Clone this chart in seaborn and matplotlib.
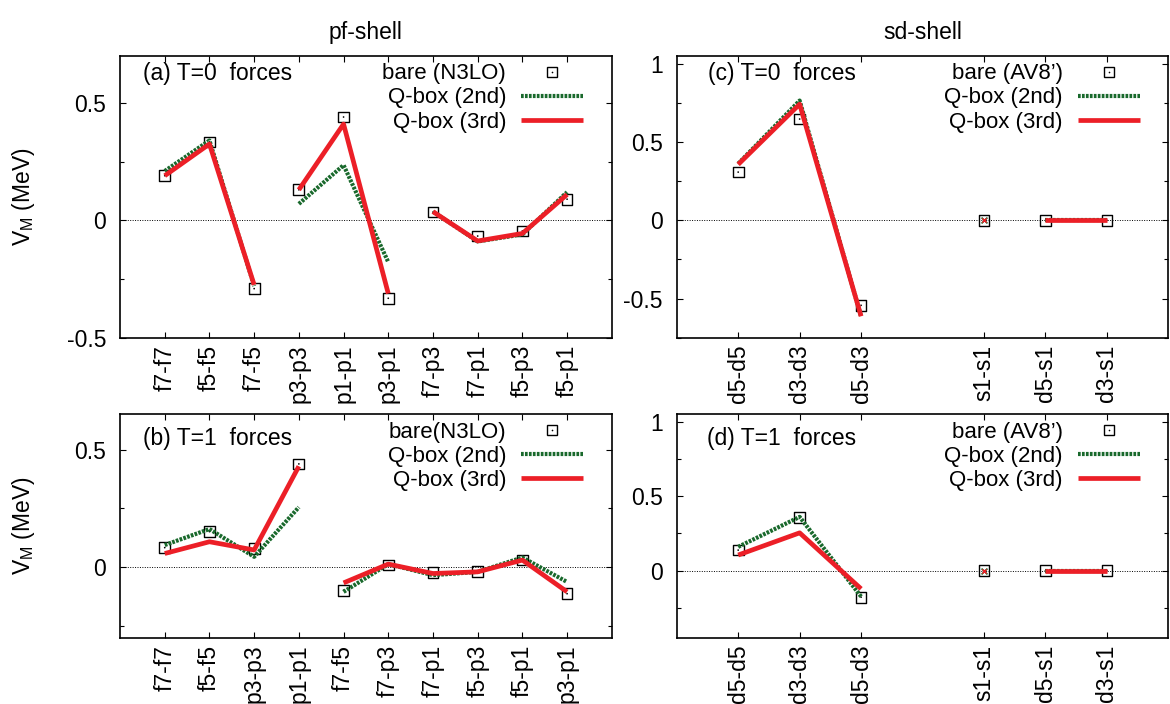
import numpy as np
import pandas as pd
import matplotlib
matplotlib.use("Agg")
import matplotlib.pyplot as plt
import seaborn as sns
from matplotlib.lines import Line2D
from matplotlib.ticker import MultipleLocator, FormatStrFormatter

# ---------------- data ----------------
pf_T0_labels = ["f7-f7", "f5-f5", "f7-f5", "p3-p3", "p1-p1", "p3-p1", "f7-p3", "f7-p1", "f5-p3", "f5-p1"]
pf_T0_groups = [3, 3, 4]
pf_T0_bare = [0.19, 0.334, -0.291, 0.13, 0.44, -0.332, 0.035, -0.067, -0.045, 0.09]
pf_T0_q2 = [0.21, 0.34, -0.28, 0.07, 0.235, -0.178, 0.037, -0.09, -0.06, 0.12]
pf_T0_q3 = [0.19, 0.325, -0.275, 0.13, 0.41, -0.312, 0.037, -0.088, -0.056, 0.11]

pf_T1_labels = ["f7-f7", "f5-f5", "p3-p3", "p1-p1", "f7-f5", "f7-p3", "f7-p1", "f5-p3", "f5-p1", "p3-p1"]
pf_T1_groups = [4, 6]
pf_T1_bare = [0.083, 0.151, 0.08, 0.439, -0.098, 0.009, -0.024, -0.017, 0.03, -0.113]
pf_T1_q2 = [0.094, 0.162, 0.044, 0.255, -0.105, 0.013, -0.034, -0.02, 0.041, -0.063]
pf_T1_q3 = [0.058, 0.108, 0.073, 0.429, -0.067, 0.013, -0.027, -0.02, 0.03, -0.105]

sd_labels = ["d5-d5", "d3-d3", "d5-d3", "s1-s1", "d5-s1", "d3-s1"]
sd_groups = [3, 1, 2]
sd_T0_bare = [0.308, 0.647, -0.543, 0.0, 0.0, 0.0]
sd_T0_q2 = [0.362, 0.765, -0.615, 0.0, 0.0, 0.0]
sd_T0_q3 = [0.357, 0.742, -0.613, 0.0, 0.0, 0.0]
sd_T1_bare = [0.138, 0.357, -0.178, 0.0, 0.0, 0.0]
sd_T1_q2 = [0.16, 0.361, -0.174, 0.0, 0.0, 0.0]
sd_T1_q3 = [0.105, 0.254, -0.122, 0.0, 0.0, 0.0]

# ---------------- style ----------------
sns.set_theme(style="white")
plt.rcParams["font.family"] = ["Liberation Sans", "DejaVu Sans"]
plt.rcParams["mathtext.fontset"] = "custom"
plt.rcParams["mathtext.rm"] = "Liberation Sans"
plt.rcParams["axes.unicode_minus"] = False
plt.rcParams["text.color"] = "black"
plt.rcParams["axes.labelcolor"] = "black"

RED = "#ec1f27"
GREEN = "#19692c"
FS = 16.5
LFS = 16
DOT = (0, (0.65, 0.3))

fig = plt.figure(figsize=(11.7, 7.04), dpi=100)
ax_a = fig.add_axes([0.1026, 0.5203, 0.4203, 0.4002])
ax_b = fig.add_axes([0.1026, 0.0942, 0.4203, 0.3173])
ax_c = fig.add_axes([0.5784, 0.5203, 0.4202, 0.4002])
ax_d = fig.add_axes([0.5784, 0.0942, 0.4202, 0.3173])


def draw_panel(ax, labels, groups, gap_after, bare, q2, q3, xlim, ylim,
               panel_text, text_y, text_x, bare_name, leg_y):
    pos = []
    p = 1
    for i in range(len(labels)):
        pos.append(p)
        p += 1
        if gap_after is not None and i == gap_after:
            p += 1
    seg = np.repeat(np.arange(len(groups)), groups)
    df = pd.DataFrame({"x": pos, "seg": seg, "bare": bare, "q2": q2, "q3": q3})
    sizes = df.groupby("seg")["x"].transform("size")
    multi = df[sizes > 1]
    single = df[sizes == 1]

    ax.axhline(0, color="black", lw=0.7, ls=(0, (1, 1.5)), zorder=1)
    sns.scatterplot(data=df, x="x", y="bare", marker="s", s=60, facecolor="none",
                    edgecolor="black", linewidth=1.0, ax=ax, zorder=3, legend=False)
    sns.scatterplot(data=df, x="x", y="bare", marker="o", s=1.5, color="black",
                    edgecolor="none", ax=ax, zorder=3, legend=False)
    sns.lineplot(data=multi, x="x", y="q2", units="seg", estimator=None, sort=False,
                 color=GREEN, lw=3.0, linestyle=DOT, ax=ax, zorder=4, legend=False)
    sns.lineplot(data=multi, x="x", y="q3", units="seg", estimator=None, sort=False,
                 color=RED, lw=3.4, solid_capstyle="butt", ax=ax, zorder=5, legend=False)
    if len(single):
        sns.scatterplot(data=single, x="x", y="q2", marker="x", s=18, color=GREEN,
                        linewidth=1.2, ax=ax, zorder=4, legend=False)
        sns.scatterplot(data=single, x="x", y="q3", marker="x", s=10, color=RED,
                        linewidth=1.0, ax=ax, zorder=5, legend=False)

    ax.set_xlim(*xlim)
    ax.set_ylim(*ylim)
    ax.set_xticks(pos)
    ax.set_xticklabels(labels, rotation=90, va="top", ha="center", fontsize=FS)
    ax.yaxis.set_major_locator(MultipleLocator(0.5))
    ax.yaxis.set_minor_locator(MultipleLocator(0.25))
    ax.yaxis.set_major_formatter(FormatStrFormatter("%g"))
    ax.tick_params(axis="both", which="both", direction="in", top=True, right=True,
                   bottom=True, left=True, colors="black", width=0.8)
    ax.tick_params(axis="both", which="major", length=4.5, labelsize=FS)
    ax.tick_params(axis="x", which="major", pad=5)
    ax.tick_params(axis="y", which="major", pad=10)
    ax.tick_params(axis="y", which="minor", length=3)
    ax.set_xlabel("")
    ax.set_ylabel("")
    for sp in ax.spines.values():
        sp.set_color("black")
        sp.set_linewidth(1.2)

    ax.text(text_x, text_y, panel_text, transform=ax.transAxes, fontsize=FS,
            ha="left", va="center", color="black")

    h_bare = (Line2D([], [], marker="s", ms=7.7, mfc="none", mec="black", mew=1.0, ls="none"),
              Line2D([], [], marker="o", ms=1.2, color="black", mec="none", ls="none"))
    h2 = Line2D([], [], color=GREEN, lw=3.0, ls=DOT)
    h3 = Line2D([], [], color=RED, lw=3.4, solid_capstyle="butt")
    ax.legend([h_bare, h2, h3], [bare_name, "Q-box (2nd)", "Q-box (3rd)"],
              markerfirst=False, frameon=False, loc="upper right",
              bbox_to_anchor=(0.9423, leg_y), borderaxespad=0, borderpad=0,
              handlelength=2.8, handletextpad=0.68, labelspacing=0.14, fontsize=LFS)


draw_panel(ax_a, pf_T0_labels, pf_T0_groups, None, pf_T0_bare, pf_T0_q2, pf_T0_q3,
           (0, 11), (-0.5, 0.7), "(a) T=0  forces", 0.9386, 0.046, "bare (N3LO)", 0.974)
draw_panel(ax_b, pf_T1_labels, pf_T1_groups, None, pf_T1_bare, pf_T1_q2, pf_T1_q3,
           (0, 11), (-0.3, 0.65), "(b) T=1  forces", 0.8925, 0.046, "bare(N3LO)", 0.967)
draw_panel(ax_c, sd_labels, sd_groups, 2, sd_T0_bare, sd_T0_q2, sd_T0_q3,
           (0, 8), (-0.75, 1.05), "(c) T=0  forces", 0.9386, 0.064, "bare (AV8\u2019)", 0.974)
draw_panel(ax_d, sd_labels, sd_groups, 2, sd_T1_bare, sd_T1_q2, sd_T1_q3,
           (0, 8), (-0.45, 1.05), "(d) T=1  forces", 0.8925, 0.061, "bare (AV8\u2019)", 0.967)

for ax in (ax_a, ax_b):
    ax.set_ylabel(r"V$_\mathregular{M}$ (MeV)", fontsize=FS, va="center", color="black")
    ax.yaxis.set_label_coords(-0.197, 0.5)

ax_a.set_title("pf-shell", fontsize=FS, pad=12, color="black")
ax_c.set_title("sd-shell", fontsize=FS, pad=12, color="black")

fig.savefig("out.png", dpi=100)
